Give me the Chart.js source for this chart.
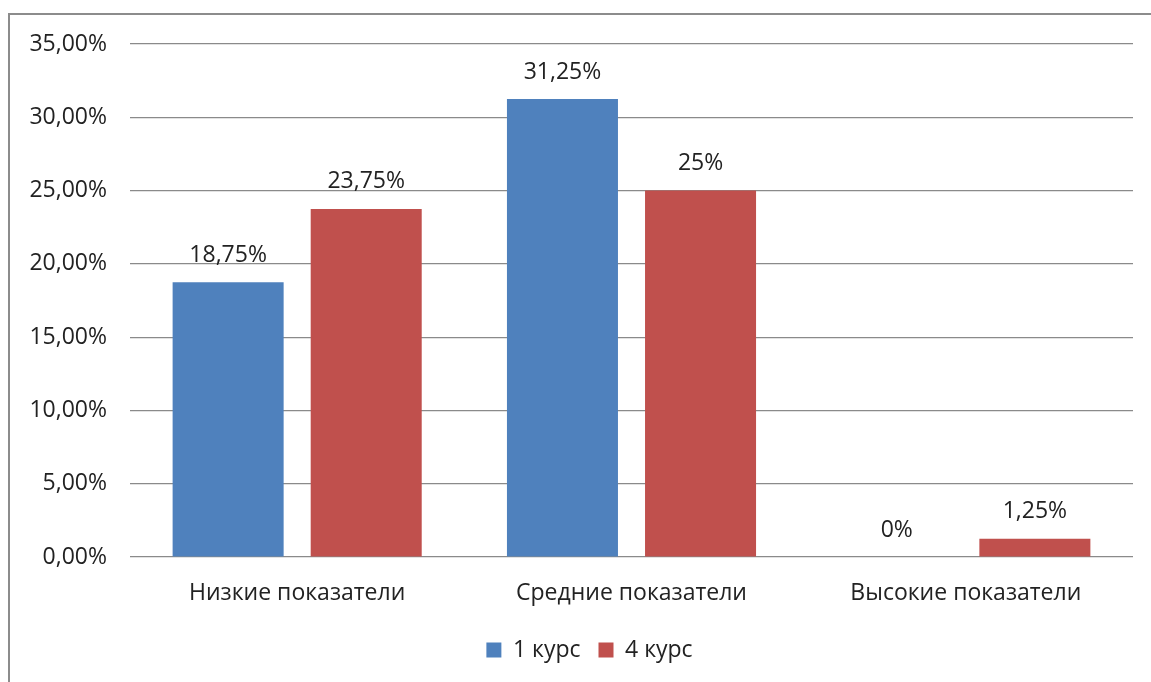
<!DOCTYPE html>
<html>
<head>
<meta charset="utf-8">
<script src="https://cdn.jsdelivr.net/npm/chart.js@4"></script>
<style>
  html, body { margin: 0; padding: 0; background: #fff; overflow: hidden; }
  #wrap { position: relative; width: 1151px; height: 682px; }
  #frame {
    position: absolute; left: 8px; top: 13px; width: 1200px; height: 720px;
    border-left: 2px solid #8c8c8c; border-top: 2px solid #8c8c8c;
    pointer-events: none;
  }
  canvas { position: absolute; left: 0; top: 0; }
</style>
</head>
<body>
<div id="wrap">
  <div id="frame"></div>
  <canvas id="c" width="1151" height="682"></canvas>
</div>
<script>
// Уровни показателей по курсам, %
const categories = ['Низкие показатели', 'Средние показатели', 'Высокие показатели'];
const course1 = [18.75, 31.25, 0];
const course4 = [23.75, 25, 1.25];
const seriesNames = ['1 курс', '4 курс'];
const yTicks = [0, 5, 10, 15, 20, 25, 30, 35];

const FONT = 'Open Sans';
const FSIZE = 23;
const TEXT = '#222222';

function pctTick(v) {
  return v.toFixed(2).replace('.', ',') + '%';
}
function pctLabel(v) {
  return String(v).replace('.', ',') + '%';
}

// Подписи значений над столбцами
const valueLabels = {
  id: 'valueLabels',
  afterDatasetsDraw(chart) {
    const ctx = chart.ctx;
    ctx.save();
    ctx.font = FSIZE + 'px "' + FONT + '"';
    ctx.fillStyle = TEXT;
    ctx.textAlign = 'center';
    ctx.textBaseline = 'middle';
    chart.data.datasets.forEach((ds, di) => {
      const meta = chart.getDatasetMeta(di);
      meta.data.forEach((bar, i) => {
        ctx.fillText(pctLabel(ds.data[i]), bar.x, bar.y - 27);
      });
    });
    ctx.restore();
  }
};

// Сдвиг легенды вправо
const legendShift = {
  id: 'legendShift',
  afterLayout(chart) {
    if (chart.legend) {
      chart.legend.left += 23;
      chart.legend.right += 23;
    }
  }
};

new Chart(document.getElementById('c'), {
  type: 'bar',
  data: {
    labels: categories,
    datasets: [
      { label: seriesNames[0], data: course1, backgroundColor: '#4F81BD' },
      { label: seriesNames[1], data: course4, backgroundColor: '#C0504D' }
    ]
  },
  options: {
    responsive: false,
    animation: false,
    devicePixelRatio: 1,
    categoryPercentage: 0.826,
    barPercentage: 0.804,
    layout: { padding: { left: 0, right: 18, top: 44, bottom: 10.5 } },
    plugins: {
      tooltip: { enabled: false },
      legend: {
        position: 'bottom',
        labels: {
          font: { family: FONT, size: FSIZE },
          color: TEXT,
          boxWidth: 15,
          boxHeight: 15,
          padding: 18
        }
      }
    },
    scales: {
      x: {
        grid: { display: false, drawTicks: false },
        border: { display: false },
        ticks: { font: { family: FONT, size: FSIZE }, color: TEXT, padding: 23 },
        afterFit(s) { s.height = 63.5; }
      },
      y: {
        min: 0,
        max: 35,
        afterBuildTicks(s) { s.ticks = yTicks.map(v => ({ value: v })); },
        grid: { color: '#8a8a8a', lineWidth: 1.2, drawTicks: false },
        border: { display: false },
        ticks: {
          font: { family: FONT, size: FSIZE },
          color: TEXT,
          padding: 23,
          callback: v => pctTick(v)
        },
        afterFit(s) { s.width = 130; }
      }
    }
  },
  plugins: [valueLabels, legendShift]
});
</script>
</body>
</html>
